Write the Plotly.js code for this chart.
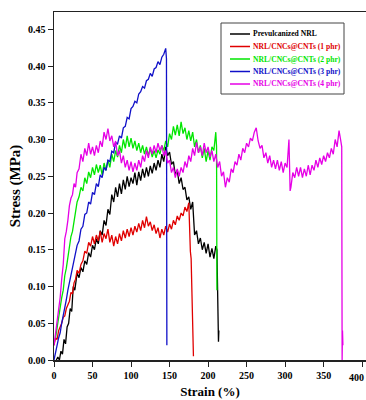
<!DOCTYPE html>
<html>
<head>
<meta charset="utf-8">
<script src="https://cdn.plot.ly/plotly-3.0.1.min.js"></script>
<style>html,body{margin:0;padding:0;background:#fff;}#chart{width:366px;height:400px;}</style>
</head>
<body>
<div id="chart"></div>
<script>
// Series names and colours
const seriesNames = ["Prevulcanized NRL", "NRL/CNCs@CNTs (1 phr)", "NRL/CNCs@CNTs (2 phr)", "NRL/CNCs@CNTs (3 phr)", "NRL/CNCs@CNTs (4 phr)"];
const seriesColors = ["#000000", "#e00000", "#00e600", "#1010c8", "#e600e6"];

// Prevulcanized NRL
const nrlStrain = [3,5,7,9,11,13,15,17,19,21,23,25,27,30,32.5,35,37.5,40,42.5,45,47.5,50,52.5,55,57.5,60,62.5,65,67.5,70,72.5,75,77.5,80,82.5,85,87.5,90,92.5,95,97.5,100,102.5,105,107.5,110,112.5,115,117.5,120,122.5,125,127.5,130,132.5,135,137.5,140,142.5,145,147.5,150,152.5,155,157.5,160,162.5,165,167.5,170,172.5,175,177.5,180,182.5,185,187.5,190,192.5,195,197.5,200,202.5,205,207.5,210,211.5,212,212.5,213,213.5,214];
const nrlStress = [0.0,0.004,0.0,0.012,0.008,0.028,0.022,0.045,0.05,0.07,0.066,0.1,0.095,0.118,0.112,0.126,0.12,0.135,0.13,0.146,0.14,0.156,0.15,0.165,0.158,0.176,0.17,0.19,0.183,0.205,0.198,0.225,0.215,0.235,0.222,0.24,0.226,0.245,0.232,0.25,0.236,0.248,0.24,0.255,0.238,0.256,0.244,0.26,0.248,0.262,0.25,0.264,0.254,0.268,0.258,0.272,0.262,0.28,0.27,0.29,0.278,0.283,0.266,0.27,0.252,0.258,0.24,0.248,0.232,0.235,0.218,0.222,0.205,0.215,0.17,0.176,0.158,0.166,0.15,0.16,0.145,0.158,0.14,0.152,0.138,0.155,0.15,0.09,0.03,0.05,0.025,0.04];

// 1 phr
const p1Strain = [0,2,4,6,8,10,12,14,16,18,20,22,24,26,28,30,32.5,35,37.5,40,42.5,45,47.5,50,52.5,55,57.5,60,62.5,65,67.5,70,72.5,75,77.5,80,82.5,85,87.5,90,92.5,95,97.5,100,102.5,105,107.5,110,112.5,115,117.5,120,122.5,125,127.5,130,132.5,135,137.5,140,142.5,145,147.5,150,152.5,155,157.5,160,162.5,165,167.5,170,172.5,175,176,177,178,179,180,181];
const p1Stress = [0.02,0.03,0.028,0.04,0.045,0.05,0.058,0.06,0.07,0.075,0.08,0.092,0.09,0.105,0.11,0.122,0.118,0.13,0.135,0.148,0.145,0.16,0.155,0.168,0.158,0.17,0.162,0.175,0.16,0.172,0.165,0.178,0.16,0.17,0.155,0.168,0.158,0.172,0.162,0.176,0.166,0.178,0.168,0.18,0.17,0.182,0.174,0.186,0.176,0.19,0.18,0.195,0.182,0.188,0.176,0.184,0.172,0.18,0.166,0.178,0.17,0.182,0.174,0.185,0.178,0.19,0.184,0.196,0.19,0.2,0.196,0.208,0.202,0.214,0.15,0.148,0.138,0.1,0.05,0.005];

// 2 phr
const p2Strain = [2,4,6,8,10,12,14,16,18,20,22,24,26,28,30,32.5,35,37.5,40,42.5,45,47.5,50,52.5,55,57.5,60,62.5,65,67.5,70,72.5,75,77.5,80,82.5,85,87.5,90,92.5,95,97.5,100,102.5,105,107.5,110,112.5,115,117.5,120,122.5,125,127.5,130,132.5,135,137.5,140,142.5,145,147.5,150,152.5,155,157.5,160,162.5,165,167.5,170,172.5,175,177.5,180,182.5,185,187.5,190,192.5,195,197.5,200,202.5,205,207.5,210,211,211.5];
const p2Stress = [0.03,0.045,0.06,0.07,0.085,0.095,0.115,0.125,0.14,0.15,0.168,0.175,0.19,0.2,0.215,0.222,0.235,0.23,0.248,0.24,0.256,0.248,0.262,0.252,0.266,0.255,0.265,0.252,0.268,0.258,0.272,0.262,0.28,0.27,0.285,0.276,0.292,0.282,0.3,0.288,0.305,0.29,0.302,0.288,0.298,0.285,0.295,0.282,0.292,0.28,0.29,0.278,0.288,0.276,0.285,0.275,0.286,0.28,0.292,0.285,0.298,0.29,0.308,0.3,0.318,0.306,0.32,0.305,0.324,0.308,0.316,0.3,0.312,0.298,0.31,0.29,0.3,0.282,0.292,0.275,0.288,0.27,0.285,0.272,0.29,0.285,0.31,0.29,0.095];

// 3 phr
const p3Strain = [0,2,4,6,8,10,12,14,16,18,20,22,24,26,28,30,32.5,35,37.5,40,42.5,45,47.5,50,52.5,55,57.5,60,62.5,65,67.5,70,72.5,75,77.5,80,82.5,85,87.5,90,92.5,95,97.5,100,102.5,105,107.5,110,112.5,115,117.5,120,122.5,125,127.5,130,132.5,135,137.5,140,142.5,145,146,146.5];
const p3Stress = [0.0,0.012,0.02,0.03,0.037,0.05,0.06,0.07,0.082,0.095,0.105,0.118,0.125,0.138,0.145,0.156,0.162,0.178,0.182,0.198,0.2,0.215,0.212,0.228,0.225,0.24,0.236,0.252,0.248,0.262,0.258,0.272,0.27,0.284,0.282,0.296,0.294,0.305,0.302,0.316,0.318,0.33,0.328,0.342,0.345,0.352,0.35,0.362,0.365,0.372,0.37,0.38,0.382,0.39,0.386,0.396,0.398,0.406,0.402,0.412,0.416,0.424,0.41,0.02];

// 4 phr
const p4Strain = [0,2,4,6,8,10,12,14,16,18,20,22,24,26,28,30,32.5,35,37.5,40,42.5,45,47.5,50,52.5,55,57.5,60,62.5,65,67.5,70,72.5,75,77.5,80,82.5,85,87.5,90,92.5,95,97.5,100,102.5,105,107.5,110,112.5,115,117.5,120,122.5,125,127.5,130,132.5,135,137.5,140,142.5,145,147.5,150,152.5,155,157.5,160,162.5,165,167.5,170,172.5,175,177.5,180,182.5,185,187.5,190,192.5,195,197.5,200,202.5,205,207.5,210,212.5,215,217.5,220,222.5,225,227.5,230,232.5,235,237.5,240,242.5,245,247.5,250,252.5,255,257.5,260,262.5,265,267.5,270,272.5,275,277.5,280,282.5,285,287.5,290,292.5,295,297.5,300,302.5,305,306.5,307.5,310,312.5,315,317.5,320,322.5,325,327.5,330,332.5,335,337.5,340,342.5,345,347.5,350,352.5,355,357.5,360,362.5,365,367.5,370,372,373.5,374,374.5,375];
const p4Stress = [0.02,0.035,0.05,0.07,0.085,0.11,0.13,0.165,0.175,0.19,0.21,0.22,0.225,0.24,0.235,0.255,0.26,0.28,0.27,0.288,0.278,0.295,0.28,0.29,0.278,0.292,0.282,0.298,0.29,0.31,0.3,0.315,0.298,0.305,0.29,0.298,0.278,0.285,0.268,0.278,0.262,0.272,0.258,0.27,0.256,0.268,0.258,0.272,0.262,0.278,0.27,0.285,0.275,0.29,0.28,0.292,0.282,0.295,0.285,0.292,0.278,0.285,0.268,0.272,0.255,0.262,0.248,0.26,0.25,0.262,0.255,0.27,0.262,0.278,0.27,0.288,0.278,0.296,0.282,0.29,0.278,0.295,0.282,0.29,0.276,0.285,0.27,0.28,0.262,0.27,0.25,0.256,0.235,0.248,0.242,0.26,0.255,0.27,0.265,0.28,0.272,0.288,0.282,0.295,0.29,0.302,0.298,0.31,0.316,0.298,0.288,0.292,0.275,0.282,0.268,0.278,0.262,0.272,0.26,0.272,0.258,0.27,0.255,0.268,0.262,0.3,0.23,0.235,0.255,0.248,0.262,0.25,0.262,0.248,0.26,0.25,0.265,0.252,0.265,0.258,0.272,0.262,0.275,0.266,0.278,0.27,0.282,0.275,0.288,0.28,0.3,0.29,0.312,0.3,0.29,0.0,0.04,0.02];

// Axis ticks
const xTicks = [0,50,100,150,200,250,300,350,400];
const yTicks = [0.00,0.05,0.10,0.15,0.20,0.25,0.30,0.35,0.40,0.45];

const xs = [nrlStrain, p1Strain, p2Strain, p3Strain, p4Strain];
const ys = [nrlStress, p1Stress, p2Stress, p3Stress, p4Stress];

const traces = seriesNames.map((n, i) => ({
  type: 'scatter', mode: 'lines', name: n,
  x: xs[i], y: ys[i],
  line: {color: seriesColors[i], width: 1.3}
}));

const serif = 'Liberation Serif, Times New Roman, serif';

// manual legend (paper coords of a 312x348 plot area starting at (54,12))
const L = 54, T = 12, W = 312, H = 348;
const px = v => (v - L) / W;
const py = v => (T + H - v) / H;
const shapes = [{
  type: 'rect', xref: 'paper', yref: 'paper',
  x0: px(221), x1: px(344), y0: py(94), y1: py(23),
  line: {color: '#444', width: 1}, fillcolor: 'rgba(255,255,255,0)'
}];
const annotations = [];
const rowY = [34, 46.5, 59, 71.5, 84];
seriesNames.forEach((n, i) => {
  shapes.push({type: 'line', xref: 'paper', yref: 'paper',
    x0: px(230), x1: px(250), y0: py(rowY[i]), y1: py(rowY[i]),
    line: {color: seriesColors[i], width: 1.5}});
  annotations.push({xref: 'paper', yref: 'paper', x: px(250.5), y: py(rowY[i]),
    xanchor: 'left', yanchor: 'middle', showarrow: false, text: n,
    font: {family: serif, size: 7.6, color: seriesColors[i], weight: 'bold'}});
});
// last x tick label, kept inside the picture's right edge
annotations.push({xref: 'paper', yref: 'paper', x: 1, y: py(377),
  xanchor: 'right', yanchor: 'middle', showarrow: false, text: String(xTicks[xTicks.length - 1]),
  font: {family: serif, size: 10, color: '#000', weight: 'bold'}});

const layout = {
  width: 366, height: 400,
  margin: {l: 54, r: 0, t: 12, b: 40},
  paper_bgcolor: '#fff', plot_bgcolor: '#fff',
  showlegend: false,
  font: {family: serif, color: '#000'},
  xaxis: {
    range: [0, 405], tickvals: xTicks, ticktext: xTicks.map(String),
    showgrid: false, zeroline: false,
    showline: true, linecolor: '#222', linewidth: 1.5, mirror: true,
    ticks: 'outside', ticklen: 5, tickwidth: 1, tickcolor: '#222',
    tickfont: {family: serif, size: 10, weight: 'bold'},
    title: {text: 'Strain (%)', font: {family: serif, size: 13, weight: 'bold'}, standoff: 7}
  },
  yaxis: {
    range: [0, 0.4735], tickvals: yTicks, ticktext: yTicks.map(v => v.toFixed(2)),
    showgrid: false, zeroline: false,
    showline: true, linecolor: '#222', linewidth: 1.5, mirror: false,
    ticks: 'outside', ticklen: 5, tickwidth: 1, tickcolor: '#222',
    tickfont: {family: serif, size: 10, weight: 'bold'},
    title: {text: 'Stress (MPa)', font: {family: serif, size: 15, weight: 'bold'}, standoff: 4}
  },
  shapes: shapes,
  annotations: annotations
};

Plotly.newPlot('chart', traces, layout, {staticPlot: true, displayModeBar: false});
</script>
</body>
</html>
